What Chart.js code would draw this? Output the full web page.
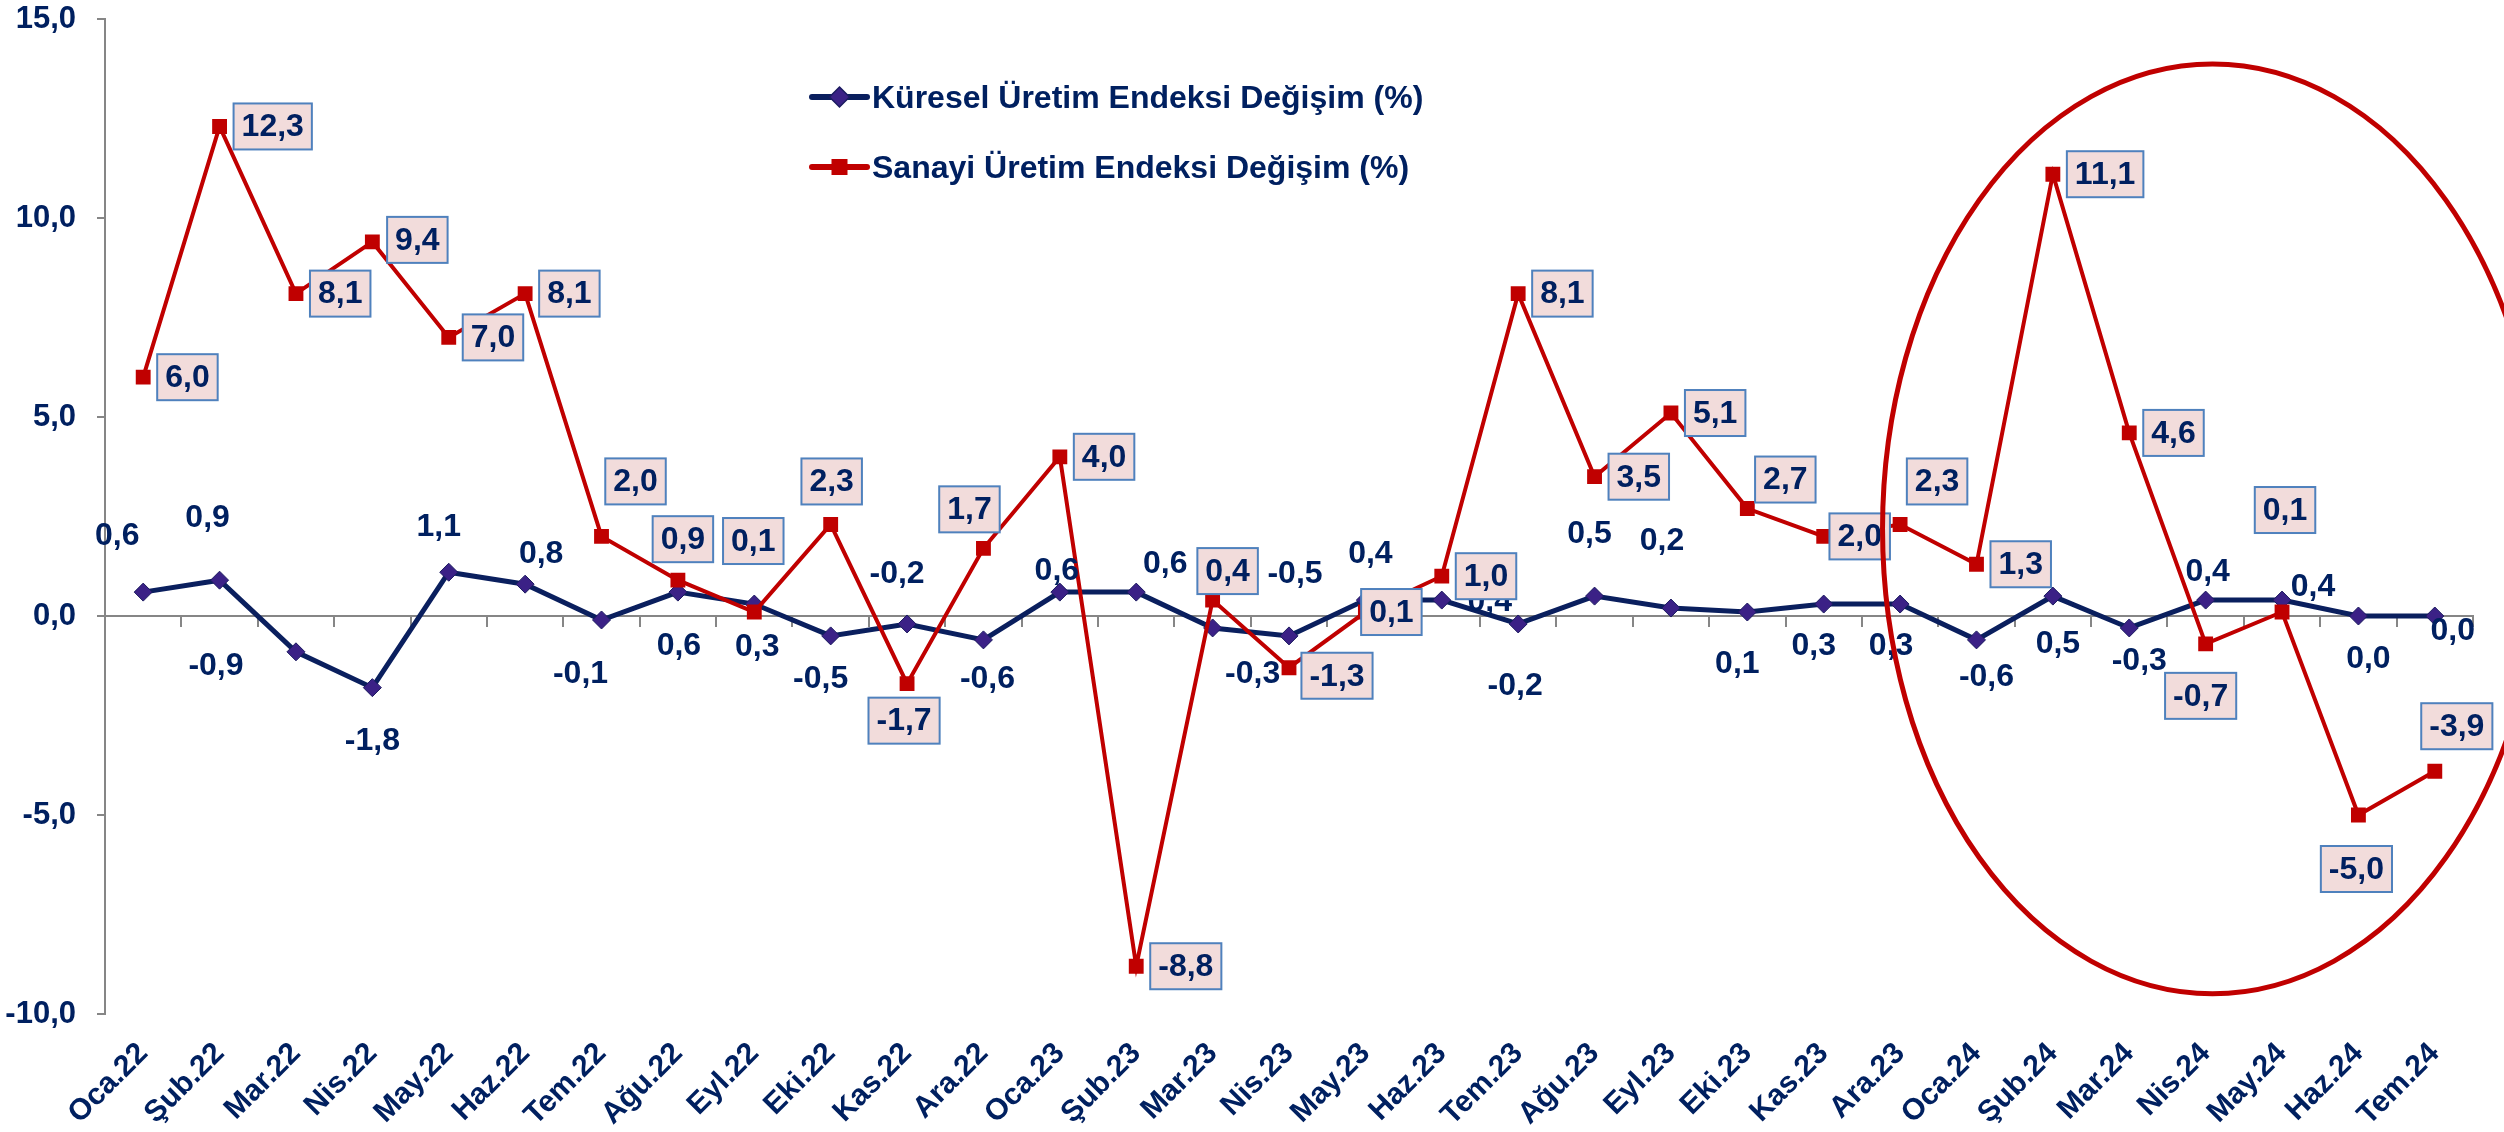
<!DOCTYPE html>
<html>
<head>
<meta charset="utf-8">
<script src="https://cdn.jsdelivr.net/npm/chart.js@4.4.1/dist/chart.umd.min.js"></script>
<style>
html,body{margin:0;padding:0;background:#ffffff;}
canvas{display:block;}
</style>
</head>
<body>
<canvas id="c" width="2504" height="1132" style="width:2504px;height:1132px"></canvas>
<script>
// ---------------- DATA ----------------
const categories = ['Oca.22','Şub.22','Mar.22','Nis.22','May.22','Haz.22','Tem.22','Ağu.22','Eyl.22','Eki.22','Kas.22','Ara.22',
  'Oca.23','Şub.23','Mar.23','Nis.23','May.23','Haz.23','Tem.23','Ağu.23','Eyl.23','Eki.23','Kas.23','Ara.23',
  'Oca.24','Şub.24','Mar.24','Nis.24','May.24','Haz.24','Tem.24'];
const kureselValues = [0.6,0.9,-0.9,-1.8,1.1,0.8,-0.1,0.6,0.3,-0.5,-0.2,-0.6,
  0.6,0.6,-0.3,-0.5,0.4,0.4,-0.2,0.5,0.2,0.1,0.3,0.3,
  -0.6,0.5,-0.3,0.4,0.4,0.0,0.0];
const sanayiValues = [6.0,12.3,8.1,9.4,7.0,8.1,2.0,0.9,0.1,2.3,-1.7,1.7,
  4.0,-8.8,0.4,-1.3,0.1,1.0,8.1,3.5,5.1,2.7,2.0,2.3,
  1.3,11.1,4.6,-0.7,0.1,-5.0,-3.9];
const yTickValues = [-10,-5,0,5,10,15];
const seriesNames = ['Küresel Üretim Endeksi Değişim (%)','Sanayi Üretim Endeksi Değişim (%)'];

// ---------------- LABEL PLACEMENT (pixel offsets from each point) ----------------
const kureselLabelOffsets = [[-26,-56],[-12,-62],[-80,14],[0,54],[-10,-45],[16,-30],[-21,54],[1,54],[3,43],[-10,43],[-10,-50],[4,39],
  [-3,-21],[29,-28],[40,46],[6,-62],[5,-46],[48,2],[-3,62],[-5,-62],[-9,-67],[-10,52],[-10,42],[-9,42],
  [10,37],[5,48],[10,33],[2,-28],[31,-13],[10,43],[18,15]];
const sanayiLabelOffsets = ['r','r','r',[45,-2],'r','r',[34,-55],[5,-41],[-1,-71],[1,-43],[-3,37],[-14,-39],
  'r','r',[15,-29],[48,8],[26,0],'r','r','r','r',[38,-29],[36,0],[37,-43],
  'r','r','r',[-5,52],[3,-102],[-2,54],[22,-45]];
// highlight ellipse in data units (category index / value)
const highlight = {centerIndex:27.09, centerValue:2.19, halfWidthIndex:4.32, halfHeightValue:11.68};

// ---------------- STYLE ----------------
const NAVY = '#002060';
const RED = '#C00000';
const GRAY = '#868686';
const FONT = '"Liberation Sans", Arial, Helvetica, sans-serif';
const fmt = v => v.toFixed(1).replace('.', ',');

const valueLabelsPlugin = {
  id: 'valueLabels',
  afterDatasetsDraw(chart) {
    const ctx = chart.ctx;
    ctx.save();
    ctx.font = 'bold 32px ' + FONT;
    ctx.textAlign = 'center';
    ctx.textBaseline = 'middle';
    const m0 = chart.getDatasetMeta(0);
    m0.data.forEach((pt, i) => {
      const o = kureselLabelOffsets[i];
      ctx.fillStyle = NAVY;
      ctx.fillText(fmt(kureselValues[i]), pt.x + o[0], pt.y + o[1]);
    });
    const m1 = chart.getDatasetMeta(1);
    m1.data.forEach((pt, i) => {
      const txt = fmt(sanayiValues[i]);
      const w = ctx.measureText(txt).width + 16;
      const h = 46;
      const o = sanayiLabelOffsets[i];
      let cx, cy;
      if (o === 'r') { cx = pt.x + 14 + w / 2; cy = pt.y; }
      else { cx = pt.x + o[0]; cy = pt.y + o[1]; }
      ctx.fillStyle = '#F2DCDB';
      ctx.fillRect(cx - w / 2, cy - h / 2, w, h);
      ctx.strokeStyle = '#4F81BD';
      ctx.lineWidth = 2;
      ctx.strokeRect(cx - w / 2, cy - h / 2, w, h);
      ctx.fillStyle = NAVY;
      ctx.fillText(txt, cx, cy + 1);
    });
    ctx.restore();
  }
};

const legendPlugin = {
  id: 'customLegend',
  afterDraw(chart) {
    const ctx = chart.ctx;
    const ds = chart.data.datasets;
    const x0 = 812, lineLen = 55, y0 = 97, rowGap = 70;
    ctx.save();
    ds.forEach((d, i) => {
      const y = y0 + i * rowGap;
      ctx.strokeStyle = d.borderColor;
      ctx.lineWidth = 6;
      ctx.lineCap = 'round';
      ctx.beginPath();
      ctx.moveTo(x0, y);
      ctx.lineTo(x0 + lineLen, y);
      ctx.stroke();
      const mx = x0 + lineLen / 2;
      ctx.fillStyle = d.pointBackgroundColor;
      if (d.pointStyle === 'rectRot') {
        ctx.beginPath();
        ctx.moveTo(mx, y - 10); ctx.lineTo(mx + 10, y); ctx.lineTo(mx, y + 10); ctx.lineTo(mx - 10, y);
        ctx.closePath(); ctx.fill();
        ctx.strokeStyle = d.pointBorderColor; ctx.lineWidth = 1.5; ctx.stroke();
      } else {
        ctx.fillRect(mx - 8, y - 8, 16, 16);
      }
      ctx.fillStyle = NAVY;
      ctx.font = 'bold 32px ' + FONT;
      ctx.textAlign = 'left';
      ctx.textBaseline = 'alphabetic';
      ctx.fillText(d.label, x0 + lineLen + 5, y + 11);
    });
    ctx.restore();
  }
};

const ellipsePlugin = {
  id: 'highlightEllipse',
  afterDraw(chart) {
    const xs = chart.scales.x, ys = chart.scales.y;
    const cx = xs.getPixelForValue(highlight.centerIndex);
    const rx = xs.getPixelForValue(highlight.centerIndex + highlight.halfWidthIndex) - cx;
    const cy = ys.getPixelForValue(highlight.centerValue);
    const ry = cy - ys.getPixelForValue(highlight.centerValue + highlight.halfHeightValue);
    const ctx = chart.ctx;
    ctx.save();
    ctx.strokeStyle = RED;
    ctx.lineWidth = 5;
    ctx.beginPath();
    ctx.ellipse(cx, cy, rx, ry, 0, 0, Math.PI * 2);
    ctx.stroke();
    ctx.restore();
  }
};

new Chart(document.getElementById('c').getContext('2d'), {
  type: 'line',
  data: {
    labels: categories,
    datasets: [
      {
        label: seriesNames[0], data: kureselValues,
        borderColor: '#0A1F5E', borderWidth: 5, tension: 0,
        pointStyle: 'rectRot', pointRadius: 9, pointHoverRadius: 9,
        pointBackgroundColor: '#3B2186', pointBorderColor: '#1B1B60', pointBorderWidth: 1,
        order: 1, xAxisID: 'x', yAxisID: 'y'
      },
      {
        label: seriesNames[1], data: sanayiValues,
        borderColor: RED, borderWidth: 4, tension: 0,
        pointStyle: 'rect', pointRadius: 10.5, pointHoverRadius: 10.5,
        pointBackgroundColor: RED, pointBorderColor: RED, pointBorderWidth: 0,
        order: 0, xAxisID: 'x', yAxisID: 'y'
      }
    ]
  },
  options: {
    responsive: false,
    animation: false,
    layout: { padding: { top: 19, right: 31, left: 0, bottom: 0 } },
    plugins: { legend: { display: false }, tooltip: { enabled: false } },
    scales: {
      x: {
        type: 'category', position: 'bottom', offset: true,
        grid: { display: false, drawTicks: false },
        border: { display: false },
        ticks: {
          autoSkip: false, minRotation: 45, maxRotation: 45, padding: 22,
          color: NAVY, font: { family: FONT, size: 30, weight: 'bold' }
        },
        afterFit(s) { s.height = 118; }
      },
      x2: {
        type: 'category', labels: categories, position: { y: 0 }, offset: true,
        grid: { display: true, offset: true, drawOnChartArea: false, drawTicks: true, tickLength: 10, color: GRAY, lineWidth: 2 },
        border: { display: true, color: GRAY, width: 2 },
        ticks: { display: false }
      },
      y: {
        min: -10, max: 15,
        afterBuildTicks(s) { s.ticks = yTickValues.map(v => ({ value: v })); },
        grid: { drawOnChartArea: false, drawTicks: true, tickLength: 8, color: GRAY, lineWidth: 2 },
        border: { display: true, color: GRAY, width: 2 },
        ticks: {
          padding: 21, color: NAVY, font: { family: FONT, size: 31, weight: 'bold' },
          callback: v => fmt(v)
        },
        afterFit(s) { s.width = 105; s.paddingTop = 0; s.paddingBottom = 0; }
      }
    }
  },
  plugins: [valueLabelsPlugin, legendPlugin, ellipsePlugin]
});
</script>
</body>
</html>
